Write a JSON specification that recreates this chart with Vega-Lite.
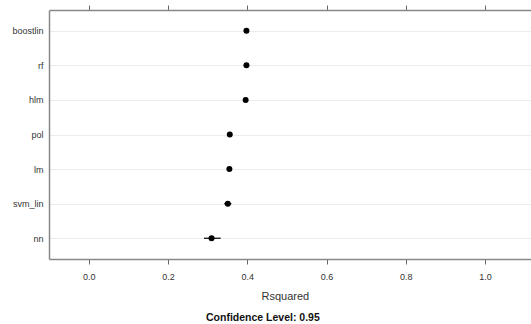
{
  "$schema": "https://vega.github.io/schema/vega-lite/v6.json",
  "width": 490,
  "height": 249,
  "autosize": {"type": "none"},
  "padding": {"left": 49, "top": 10, "right": 0, "bottom": 65},
  "background": "white",
  "title": {"text": "Confidence Level: 0.95", "orient": "bottom", "anchor": "start", "fontSize": 10.5, "fontWeight": "bold", "font": "Liberation Sans", "color": "#111", "offset": 12, "dx": 194},
  "config": {
    "view": {"stroke": null},
    "font": "Liberation Sans"
  },
  "data": {"values": [
    {"model": "boostlin", "r2": 0.398, "lo": 0.394, "hi": 0.402},
    {"model": "rf", "r2": 0.398, "lo": 0.394, "hi": 0.402},
    {"model": "hlm", "r2": 0.396, "lo": 0.391, "hi": 0.401},
    {"model": "pol", "r2": 0.356, "lo": 0.352, "hi": 0.360},
    {"model": "lm", "r2": 0.355, "lo": 0.351, "hi": 0.359},
    {"model": "svm_lin", "r2": 0.351, "lo": 0.342, "hi": 0.360},
    {"model": "nn", "r2": 0.31, "lo": 0.291, "hi": 0.333}
  ]},
  "encoding": {
    "y": {
      "field": "model", "type": "nominal",
      "sort": ["boostlin", "rf", "hlm", "pol", "lm", "svm_lin", "nn"],
      "scale": {"type": "point", "padding": 0.6},
      "axis": {"title": null, "grid": true, "gridColor": "#ececec", "gridWidth": 1, "domainColor": "#888", "domainWidth": 1.5, "ticks": false, "labelPadding": 6, "labelFontSize": 9, "labelColor": "#333"}
    }
  },
  "layer": [
    {
      "mark": {"type": "rule", "color": "black", "strokeWidth": 1.2},
      "encoding": {
        "x": {"field": "lo", "type": "quantitative", "scale": {"domain": [-0.1, 1.136], "nice": false, "zero": false},
          "axis": {"title": "Rsquared", "titleAnchor": "start", "titleX": 212, "orient": "bottom", "values": [0, 0.2, 0.4, 0.6, 0.8, 1.0], "format": ".1f", "grid": false, "domainColor": "#888", "domainWidth": 1.5, "tickColor": "#666", "tickSize": 5, "labelPadding": 8, "labelFontSize": 9, "labelColor": "#333", "titleFontSize": 11, "titleFontWeight": "normal", "titleColor": "#333", "titlePadding": 9}},
        "x2": {"field": "hi"}
      }
    },
    {
      "mark": {"type": "point", "filled": true, "color": "black", "size": 36, "opacity": 1},
      "encoding": {
        "x": {"field": "r2", "type": "quantitative",
          "axis": {"title": null, "orient": "top", "values": [0, 0.2, 0.4, 0.6, 0.8, 1.0], "labels": false, "grid": false, "domainColor": "#888", "domainWidth": 1.5, "tickColor": "#666", "tickSize": 5}}
      }
    }
  ],
  "resolve": {"axis": {"x": "independent"}}
}
